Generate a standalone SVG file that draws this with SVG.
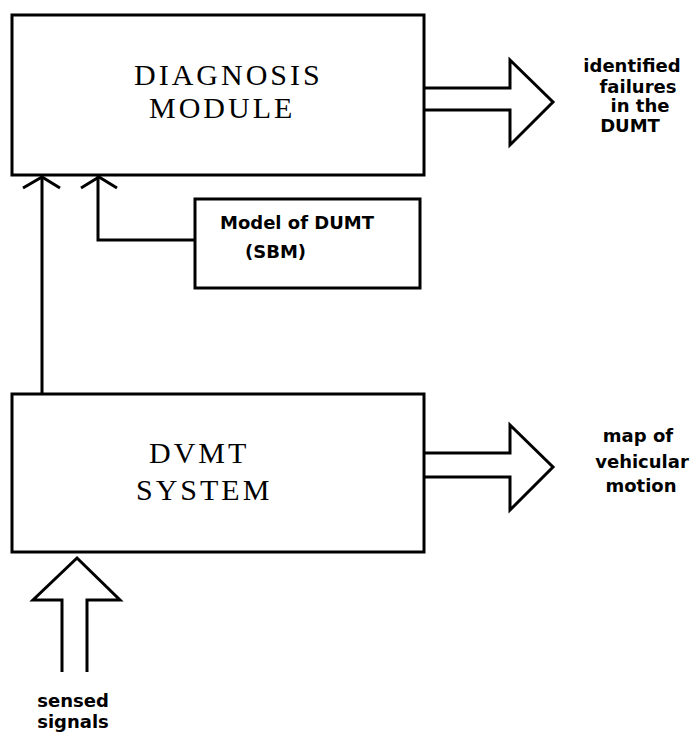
<svg xmlns="http://www.w3.org/2000/svg" width="700" height="736" viewBox="0 0 700 736">
  <style>
    .box { fill: #fff; stroke: #000; stroke-width: 3; }
    .line { fill: none; stroke: #000; stroke-width: 3; stroke-linejoin: miter; }
    .big { font-family: "Liberation Serif", "DejaVu Serif", serif; font-size: 30px; letter-spacing: 3px; fill: #000; }
    .lbl { font-family: "DejaVu Sans", "Liberation Sans", sans-serif; font-weight: bold; font-size: 18px; fill: #000; }
  </style>
  <rect width="700" height="736" fill="#fff"/>

  <g id="connectors">
    <!-- DVMT system feeding the diagnosis module -->
    <path class="line" d="M42,394 V176"/>
    <path class="line" d="M23,188 L42,177 L60,188"/>
    <!-- model feeding the diagnosis module -->
    <path class="line" d="M195,240 H98 V176"/>
    <path class="line" d="M81,188 L99,177 L117,188"/>
    <!-- hollow block arrows -->
    <path class="line" d="M424,88 H510 V60 L553,102 L510,145 V110 H424"/>
    <path class="line" d="M424,453 H510 V425 L553,467 L510,510 V477 H424"/>
    <path class="line" d="M62,672 V600 H33 L77,558 L120,600 H87 V672"/>
  </g>

  <g id="diagnosis">
    <rect class="box" x="12" y="15" width="412" height="160"/>
    <text class="big" x="134" y="85">DIAGNOSIS</text>
    <text class="big" x="149" y="118">MODULE</text>
  </g>

  <g id="model">
    <rect class="box" x="195" y="199" width="225" height="89"/>
    <text class="lbl" x="220" y="229" font-size="19">Model of DUMT</text>
    <text class="lbl" x="245" y="258" font-size="19">(SBM)</text>
  </g>

  <g id="dvmt">
    <rect class="box" x="12" y="394" width="412" height="158"/>
    <text class="big" x="149" y="463">DVMT</text>
    <text class="big" x="136" y="500" letter-spacing="1">SYSTEM</text>
  </g>

  <g id="failures-label" class="lbl" text-anchor="middle">
    <text x="632" y="72">identified</text>
    <text x="638" y="93">failures</text>
    <text x="640" y="112">in the</text>
    <text x="630" y="132">DUMT</text>
  </g>

  <g id="motion-label" class="lbl" text-anchor="middle">
    <text x="638" y="442">map of</text>
    <text x="642" y="468">vehicular</text>
    <text x="641" y="492">motion</text>
  </g>

  <g id="signals-label" class="lbl" text-anchor="middle" font-size="21">
    <text x="73" y="707">sensed</text>
    <text x="73" y="728">signals</text>
  </g>
</svg>
